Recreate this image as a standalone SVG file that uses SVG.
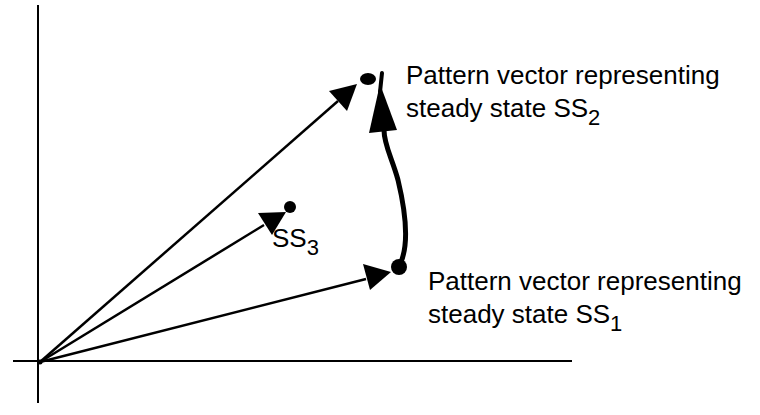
<svg xmlns="http://www.w3.org/2000/svg" width="760" height="415" viewBox="0 0 760 415">
<style>
.ax{stroke:#000;stroke-width:2;fill:none}
.vec{stroke:#000;stroke-width:2.5;fill:none}
.head{fill:#000}
.lbl{font-family:"Liberation Sans",Arial,sans-serif;font-size:26px;fill:#000}
.sub{font-size:22px}
</style>
<rect width="760" height="415" fill="#fff"/>
<g id="axes">
<line class="ax" x1="38" y1="5" x2="38" y2="403"/>
<line class="ax" x1="13" y1="361" x2="572" y2="361"/>
</g>
<g id="connectors">
<line class="vec" x1="40" y1="362" x2="338" y2="101"/>
<polygon class="head" points="357,84 347,111 329,91"/>
<line class="vec" x1="40" y1="362" x2="264" y2="225"/>
<polygon class="head" points="286,212 272,235 258,213"/>
<line class="vec" x1="40" y1="362" x2="366" y2="279"/>
<polygon class="head" points="391,272 370,290 363,264"/>
<path d="M401,262 C410,240 404,205 398,180 C392,158 384,145 384,130" stroke="#000" stroke-width="5" fill="none" stroke-linecap="round"/>
<polygon class="head" points="380,84 397,130 369,133"/>
<line x1="380" y1="92" x2="382" y2="73" stroke="#000" stroke-width="4" stroke-linecap="round"/>
<circle cx="40" cy="362" r="2.5" fill="#000"/>
</g>
<g id="ss2">
<ellipse cx="368" cy="79" rx="8" ry="6" fill="#000"/>
<text class="lbl" x="406" y="84">Pattern vector representing</text>
<text class="lbl" x="406" y="117">steady state SS<tspan class="sub" dy="8">2</tspan></text>
</g>
<g id="ss3">
<circle cx="290" cy="207" r="6" fill="#000"/>
<text class="lbl" x="272" y="247">SS<tspan class="sub" dy="8">3</tspan></text>
</g>
<g id="ss1">
<circle cx="399" cy="267" r="8" fill="#000"/>
<text class="lbl" x="428" y="290">Pattern vector representing</text>
<text class="lbl" x="428" y="323">steady state SS<tspan class="sub" dy="8">1</tspan></text>
</g>
</svg>
